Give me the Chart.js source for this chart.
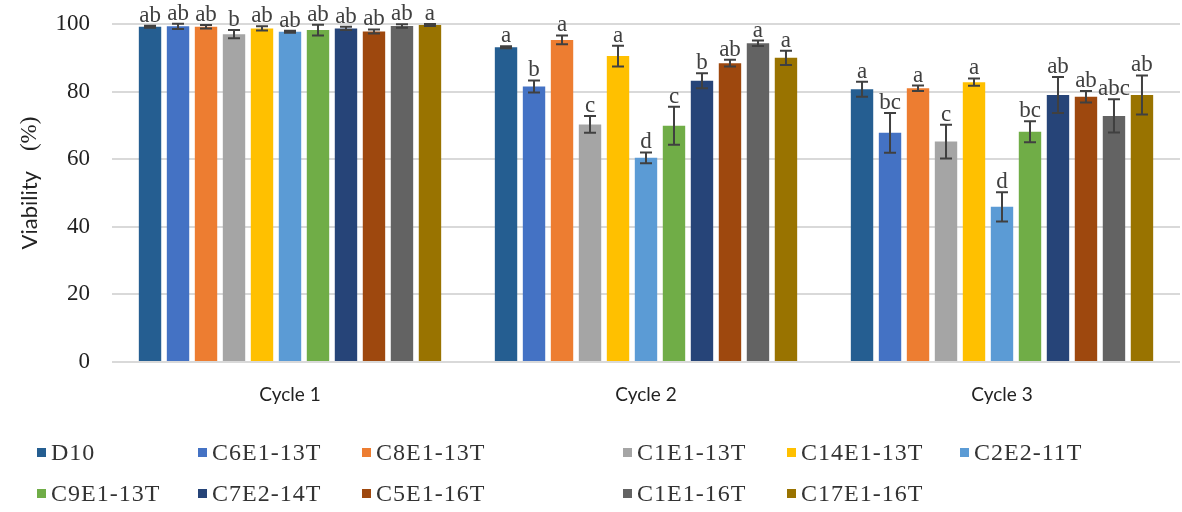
<!DOCTYPE html>
<html>
<head>
<meta charset="utf-8">
<script src="https://cdn.jsdelivr.net/npm/chart.js"></script>
<style>
    body { margin: 0; background: #fff; }
    #wrap { position: relative; width: 1182px; height: 512px; }
    #legend { position: absolute; left: 0; top: 0; width: 1182px; height: 512px; pointer-events: none; }
    .item { position: absolute; font-family: "Liberation Serif", serif; font-size: 24px; letter-spacing: 1px; color: #333; white-space: nowrap; line-height: 24px; }
    .item span { display: inline-block; width: 9px; height: 9px; margin-right: 5px; vertical-align: 3px; }
</style>
</head>
<body>
<div id="wrap">
    <canvas id="chart_id" width="1182" height="512"></canvas>
    <div id="legend"></div>
</div>
<script>
    // cycles on the x axis
    const categories = ['Cycle 1', 'Cycle 2', 'Cycle 3'];
    const strains = ['D10', 'C6E1-13T', 'C8E1-13T', 'C1E1-13T', 'C14E1-13T', 'C2E2-11T',
                     'C9E1-13T', 'C7E2-14T', 'C5E1-16T', 'C1E1-16T', 'C17E1-16T'];
    const colors = ['#255E91', '#4472C4', '#ED7D31', '#A5A5A5', '#FFC000', '#5B9BD5',
                    '#70AD47', '#264478', '#9E480E', '#636363', '#997300'];

    // viability (%) per strain, one array per cycle
    const cycle1 = [99.2, 99.3, 99.2, 97.0, 98.7, 97.7, 98.2, 98.7, 97.8, 99.4, 99.7];
    const cycle2 = [93.1, 81.5, 95.3, 70.3, 90.5, 60.4, 69.9, 83.2, 88.4, 94.3, 90.0];
    const cycle3 = [80.7, 67.8, 81.0, 65.2, 82.8, 45.9, 68.1, 79.0, 78.5, 72.8, 79.0];

    // error bars
    const err1 = [0.3, 0.8, 0.5, 1.2, 0.6, 0.3, 1.6, 0.5, 0.6, 0.5, 0.3];
    const err2 = [0.3, 1.8, 1.3, 2.5, 3.1, 1.6, 5.6, 2.2, 1.0, 0.8, 2.1];
    const err3 = [2.2, 5.9, 0.8, 5.0, 1.1, 4.3, 3.1, 5.3, 1.7, 4.9, 5.8];

    // significance letters
    const letters1 = ['ab', 'ab', 'ab', 'b', 'ab', 'ab', 'ab', 'ab', 'ab', 'ab', 'a'];
    const letters2 = ['a', 'b', 'a', 'c', 'a', 'd', 'c', 'b', 'ab', 'a', 'a'];
    const letters3 = ['a', 'bc', 'a', 'c', 'a', 'd', 'bc', 'ab', 'ab', 'abc', 'ab'];

    const yTicks = [0, 20, 40, 60, 80, 100];

    const values = [cycle1, cycle2, cycle3];
    const errs = [err1, err2, err3];
    const letters = [letters1, letters2, letters3];

    const datasets = strains.map((name, s) => ({
        label: name,
        data: values.map(v => v[s]),
        err: errs.map(e => e[s]),
        letters: letters.map(l => l[s]),
        backgroundColor: colors[s],
        borderWidth: 0,
        categoryPercentage: 0.865,
        barPercentage: 0.8
    }));

    // error bars + letters
    const errorBars = {
        id: 'errorBars',
        afterDatasetsDraw(chart) {
            const ctx = chart.ctx;
            const y = chart.scales.y;
            ctx.save();
            ctx.strokeStyle = '#404040';
            ctx.lineWidth = 2;
            ctx.fillStyle = '#404040';
            ctx.font = '23px "Liberation Serif"';
            ctx.textAlign = 'center';
            ctx.textBaseline = 'alphabetic';
            chart.data.datasets.forEach((ds, d) => {
                chart.getDatasetMeta(d).data.forEach((bar, i) => {
                    const v = ds.data[i], e = ds.err[i];
                    const top = y.getPixelForValue(v + e);
                    const bot = y.getPixelForValue(v - e);
                    ctx.beginPath();
                    ctx.moveTo(bar.x, top); ctx.lineTo(bar.x, bot);
                    ctx.moveTo(bar.x - 6, top); ctx.lineTo(bar.x + 6, top);
                    ctx.moveTo(bar.x - 6, bot); ctx.lineTo(bar.x + 6, bot);
                    ctx.stroke();
                    ctx.fillText(ds.letters[i], bar.x, top - 4);
                });
            });
            ctx.restore();
        }
    };

    // y title: sans "Viability" + serif "(%)"
    const yTitle = {
        id: 'yTitle',
        afterDraw(chart) {
            const ctx = chart.ctx;
            ctx.save();
            ctx.translate(30, 183);
            ctx.rotate(-Math.PI / 2);
            ctx.fillStyle = '#222';
            ctx.textBaseline = 'middle';
            ctx.textAlign = 'left';
            ctx.font = '22px Lato';
            const w1 = ctx.measureText('Viability').width;
            ctx.font = '23px "Liberation Serif"';
            const w2 = ctx.measureText('(%)').width;
            const gap = 20;
            let x = -(w1 + gap + w2) / 2;
            ctx.font = '22px Lato';
            ctx.fillText('Viability', x, 0);
            ctx.font = '23px "Liberation Serif"';
            ctx.fillText('(%)', x + w1 + gap, 0);
            ctx.restore();
        }
    };

    new Chart(document.getElementById('chart_id'), {
        type: 'bar',
        data: { labels: categories, datasets: datasets },
        options: {
            responsive: false,
            animation: false,
            layout: { padding: { top: 24, right: 2, bottom: 100, left: 0 } },
            plugins: { legend: { display: false }, tooltip: { enabled: false } },
            scales: {
                x: {
                    grid: { display: false },
                    border: { display: false },
                    ticks: { font: { family: 'Lato', size: 19 }, color: '#222', padding: 13 },
                    afterFit(axis) { axis.height = 50; }
                },
                y: {
                    min: 0, max: 100,
                    afterBuildTicks(axis) { axis.ticks = yTicks.map(v => ({ value: v })); },
                    grid: { color: '#D9D9D9', lineWidth: 2, drawTicks: false },
                    border: { display: false },
                    ticks: { font: { family: 'Liberation Serif', size: 23 }, color: '#222', padding: 22 },
                    afterFit(axis) { axis.width = 112; axis.paddingTop = 0; axis.paddingBottom = 0; }
                }
            }
        },
        plugins: [errorBars, yTitle]
    });

    // legend (uneven column positions as in the source figure)
    const legendX = [37, 198, 362, 623, 787, 960];
    const legendY = [440, 481];
    const box = document.getElementById('legend');
    strains.forEach((name, s) => {
        const el = document.createElement('div');
        el.className = 'item';
        el.style.left = legendX[s % 6] + 'px';
        el.style.top = legendY[Math.floor(s / 6)] + 'px';
        el.innerHTML = '<span style="background:' + colors[s] + '"></span>' + name;
        box.appendChild(el);
    });
</script>
</body>
</html>
